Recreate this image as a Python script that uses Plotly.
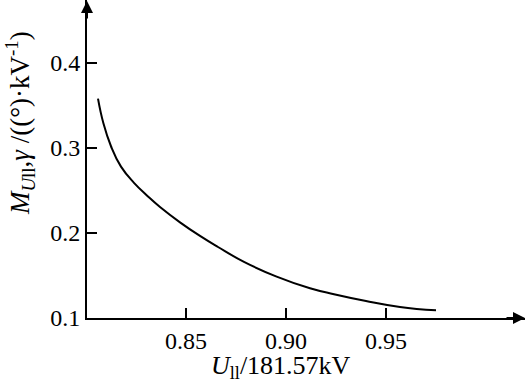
import plotly.graph_objects as go

# curve
u_ll = [0.806, 0.8087, 0.8125, 0.8175, 0.824, 0.831, 0.837, 0.847, 0.857,
        0.866, 0.879, 0.895, 0.912, 0.924, 0.940, 0.957, 0.975]
m_u = [0.358, 0.329, 0.302, 0.278, 0.259, 0.243, 0.2305, 0.2125, 0.1965,
       0.1835, 0.166, 0.149, 0.135, 0.128, 0.120, 0.113, 0.109]

x_ticks = [0.85, 0.90, 0.95]
x_tick_text = ["0.85", "0.90", "0.95"]
y_ticks = [0.1, 0.2, 0.3, 0.4]
y_tick_text = ["0.1", "0.2", "0.3", "0.4"]

serif = "Liberation Serif"

fig = go.Figure(go.Scatter(
    x=u_ll, y=m_u, mode="lines",
    line=dict(color="black", width=2, shape="spline", smoothing=1.3),
    hoverinfo="skip",
))

axis_common = dict(
    showgrid=False, zeroline=False, showline=True, linecolor="black",
    linewidth=2, ticks="inside", ticklen=10, tickwidth=2, tickcolor="black",
    tickfont=dict(family=serif, size=24, color="black"), automargin=False,
)

fig.update_xaxes(range=[0.8005, 1.0195], tickvals=x_ticks, ticktext=x_tick_text,
                 **axis_common)
fig.update_yaxes(range=[0.1, 0.474], tickvals=y_ticks, ticktext=y_tick_text,
                 **axis_common)

# arrow heads at the axis ends
fig.add_annotation(xref="paper", yref="paper", x=1, y=0, ax=-20, ay=0,
                   axref="pixel", ayref="pixel", text="", showarrow=True,
                   arrowhead=2, arrowwidth=2, arrowsize=1.2, arrowcolor="black")
fig.add_annotation(xref="paper", yref="paper", x=0, y=1, ax=0, ay=20,
                   axref="pixel", ayref="pixel", text="", showarrow=True,
                   arrowhead=2, arrowwidth=2, arrowsize=1.2, arrowcolor="black")

# axis titles
fig.add_annotation(xref="paper", yref="paper", x=0.443, y=0, yanchor="top",
                   yshift=-31, showarrow=False,
                   text="<i>U</i><sub>ll</sub>/181.57kV",
                   font=dict(family=serif, size=26, color="black"))
fig.add_annotation(xref="paper", yref="paper", x=0, y=0.613, xshift=-67,
                   xanchor="center", yanchor="middle", textangle=-90,
                   showarrow=False,
                   text="<i>M</i><sub><i>U</i>ll</sub>,<i>γ</i> /((°)·kV<sup>-1</sup>)",
                   font=dict(family=serif, size=27, color="black"))

fig.update_layout(
    width=526, height=382,
    margin=dict(l=87, r=1, t=0, b=64),
    plot_bgcolor="white", paper_bgcolor="white",
    showlegend=False,
)

# drop the browser's default 8px body margin so the chart sits at the corner
fig.write_html("out.html", config={"displayModeBar": False},
               post_script="document.body.style.margin='0';")
